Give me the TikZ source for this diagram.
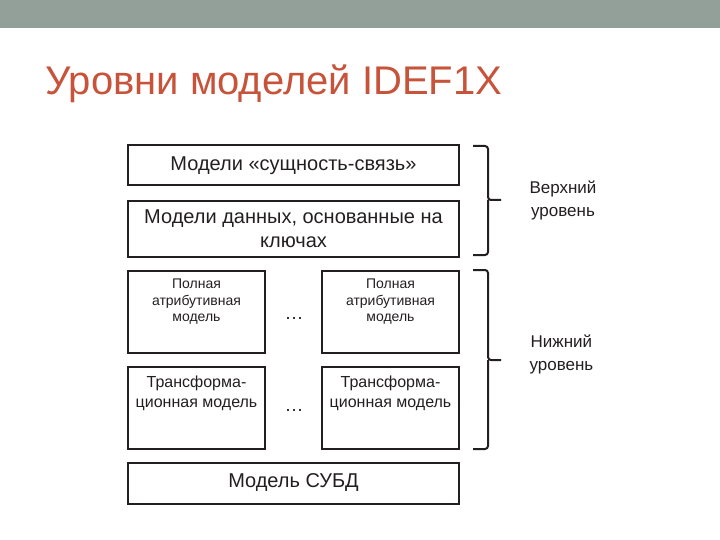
\documentclass[tikz,border=0pt]{standalone}
\usepackage{fontspec}
\setmainfont{Liberation Sans}
\usetikzlibrary{positioning}
\definecolor{barcol}{RGB}{146,160,153}
\definecolor{titlecol}{RGB}{199,84,58}
\definecolor{inkcol}{RGB}{35,31,32}

\tikzset{
  modelbox/.style={draw=inkcol, line width=2pt, inner sep=0pt},
  widebox/.style={modelbox, minimum width=331pt, minimum height=40pt},
  smallbox/.style={modelbox, minimum width=137pt, minimum height=82pt},
  bigtext/.style={font=\fontsize{20}{24}\selectfont, align=center, text=inkcol},
  smalltext/.style={font=\fontsize{14}{16.5}\selectfont, align=center, text=inkcol},
  midtext/.style={font=\fontsize{16}{19.5}\selectfont, align=center, text=inkcol},
  levelbrace/.style={draw=inkcol, line width=2pt, rounded corners=3pt},
  leveltext/.style={font=\fontsize{17}{23}\selectfont, align=center, text=inkcol},
}

\begin{document}
\begin{tikzpicture}[x=1pt,y=-1pt]
  \useasboundingbox (0,0) rectangle (720,540);

  % Top bar and title
  \fill[barcol] (0,0) rectangle (720,28);
  \node[anchor=base west, text=titlecol, font=\fontsize{40}{44}\selectfont, inner sep=0pt] (title) at (45,95) {Уровни моделей IDEF1X};

  % Upper level boxes
  \node[widebox, bigtext] (er) at (293.5,165.5) {\raisebox{3pt}{Модели «сущность-связь»}};
  \node[widebox, minimum height=55pt, bigtext, below=14pt of er] (keys) {Модели данных, основанные на\\ключах};

  % Lower level boxes
  \node[smallbox, below right=12pt and 0pt of keys.south west] (fullL) {};
  \node[smallbox, below left=12pt and 0pt of keys.south east] (fullR) {};
  \node[smallbox, below=12pt of fullL] (transL) {};
  \node[smallbox, below=12pt of fullR] (transR) {};
  \node[widebox, minimum height=41pt, bigtext, below right=12pt and 0pt of transL.south west] (dbms) {\raisebox{2pt}{Модель СУБД}};

  % Texts near the top of the small boxes
  \node[smalltext, anchor=north, below=6pt of fullL.north] (fullLtext) {Полная\\атрибутивная\\модель};
  \node[smalltext, anchor=north, below=6pt of fullR.north] (fullRtext) {Полная\\атрибутивная\\модель};
  \node[midtext, anchor=north, below=7pt of transL.north] (transLtext) {Трансформа-\\ционная модель};
  \node[midtext, anchor=north, below=7pt of transR.north] (transRtext) {Трансформа-\\ционная модель};

  % Dots between the columns
  \node[font=\fontsize{19}{20}\selectfont, text=inkcol] (dotsA) at (294,318) {\dots};
  \node[font=\fontsize{19}{20}\selectfont, text=inkcol] (dotsB) at (294,410) {\dots};

  % Braces
  \coordinate (upTip) at (501,200);
  \coordinate (lowTip) at (501,360);
  \draw[levelbrace] (473,146) -| (488,200) -- (upTip) (488,200) |- (473,255);
  \draw[levelbrace] (473,270) -| (488,360) -- (lowTip) (488,360) |- (473,449);

  % Level labels
  \node[leveltext, right=25pt of upTip] (upLabel) {Верхний\\уровень};
  \node[leveltext, right=25pt of lowTip, yshift=6pt] (lowLabel) {Нижний\\уровень};
\end{tikzpicture}
\end{document}
